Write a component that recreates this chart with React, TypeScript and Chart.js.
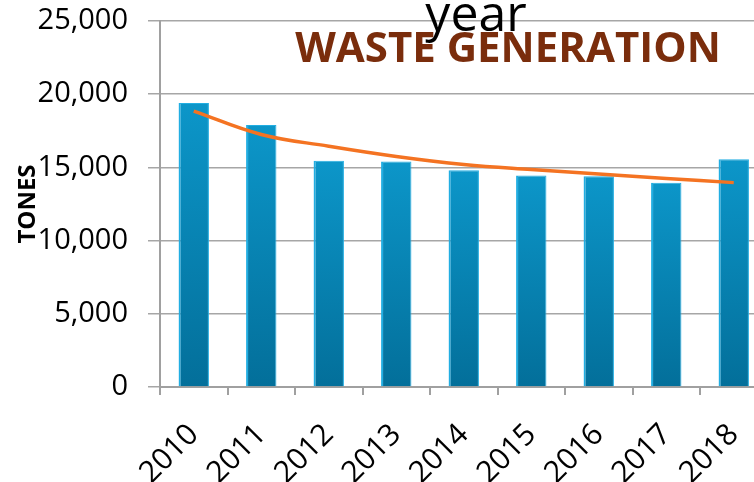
import React, { useEffect, useRef } from 'react';
import { Chart, registerables } from 'chart.js';

Chart.register(...registerables);

const categories = ['2010', '2011', '2012', '2013', '2014', '2015', '2016', '2017', '2018'];
const wasteTonnes = [19400, 17900, 15450, 15400, 14800, 14450, 14400, 13950, 15550];
const trendTonnes = [18850, 17250, 16450, 15750, 15200, 14850, 14550, 14250, 13960];
const yMin = 0;
const yMax = 25000;
const yStep = 5000;
const chartTitle = 'WASTE GENERATION';
const xAxisTitle = 'year';
const yAxisTitle = 'TONES';

const overlayText = {
  id: 'overlayText',
  afterDraw(chart: any) {
    const ctx = chart.ctx;
    ctx.save();
    ctx.textAlign = 'center';
    ctx.textBaseline = 'alphabetic';
    ctx.fillStyle = '#7a2d0c';
    ctx.font = 'bold 42px "Open Sans"';
    ctx.fillText(chartTitle, 508, 62);
    ctx.fillStyle = '#000000';
    ctx.font = '50px "Open Sans"';
    ctx.fillText(xAxisTitle, 476, 31);
    ctx.restore();
  },
};

export default function App() {
  const canvasRef = useRef<HTMLCanvasElement>(null);

  useEffect(() => {
    if (!canvasRef.current) return;
    const chart = new Chart(canvasRef.current, {
      type: 'bar',
      data: {
        labels: categories,
        datasets: [
          {
            type: 'line',
            label: 'Trend',
            data: trendTonnes,
            borderColor: '#f47322',
            borderWidth: 3.5,
            pointRadius: 0,
            tension: 0.4,
            fill: false,
            order: 0,
          } as any,
          {
            type: 'bar',
            label: 'Waste',
            data: wasteTonnes,
            backgroundColor: (c: any) => {
              const ch = c.chart;
              const area = ch.chartArea;
              if (!area || c.raw == null) return '#0a89bb';
              const top = ch.scales.y.getPixelForValue(c.raw);
              const g = ch.ctx.createLinearGradient(0, top, 0, area.bottom);
              g.addColorStop(0, '#0c96c9');
              g.addColorStop(1, '#036f9a');
              return g;
            },
            borderColor: '#22aee2',
            borderWidth: { left: 2, right: 1, top: 1, bottom: 0 },
            borderSkipped: false,
            barPercentage: 0.45,
            categoryPercentage: 1,
            order: 1,
          } as any,
        ],
      },
      options: {
        animation: false,
        responsive: true,
        maintainAspectRatio: false,
        devicePixelRatio: 1,
        layout: { padding: { top: 21, right: 32.5, bottom: 0, left: 0 } },
        plugins: {
          legend: { display: false },
          tooltip: { enabled: false },
          title: { display: false },
        },
        scales: {
          x: {
            grid: {
              display: true,
              drawOnChartArea: false,
              drawTicks: true,
              tickLength: 8,
              color: '#a0a0a0',
              lineWidth: 2,
              offset: true,
            },
            border: { display: true, color: '#a0a0a0', width: 2 },
            ticks: {
              minRotation: 45,
              maxRotation: 45,
              color: '#000000',
              font: { family: '"Open Sans"', size: 30 },
              padding: 22,
              autoSkip: false,
            },
            afterFit: (scale: any) => {
              scale.height = 95;
            },
          },
          y: {
            min: yMin,
            max: yMax,
            ticks: {
              stepSize: yStep,
              color: '#000000',
              font: { family: '"Open Sans"', size: 29 },
              padding: 20,
              callback: (v: any) => Number(v).toLocaleString('en-US'),
            },
            grid: {
              color: '#a6a6a6',
              lineWidth: 1.5,
              tickLength: 12,
              drawTicks: true,
            },
            border: { display: true, color: '#a0a0a0', width: 2 },
            title: {
              display: true,
              text: yAxisTitle,
              color: '#000000',
              font: { family: '"Open Sans"', size: 24, weight: 'bold' },
              padding: { top: 14, bottom: 0 },
            },
            afterFit: (scale: any) => {
              scale.width = 160;
              scale.paddingTop = 0;
              scale.paddingBottom = 0;
            },
          },
        },
      },
      plugins: [overlayText],
    });
    return () => chart.destroy();
  }, []);

  return (
    <div style={{ position: 'fixed', left: 0, top: 0, width: 754, height: 482, overflow: 'hidden', background: '#ffffff' }}>
      <div style={{ position: 'absolute', left: 0, top: 0, width: 800, height: 482 }}>
        <canvas ref={canvasRef} />
      </div>
    </div>
  );
}
